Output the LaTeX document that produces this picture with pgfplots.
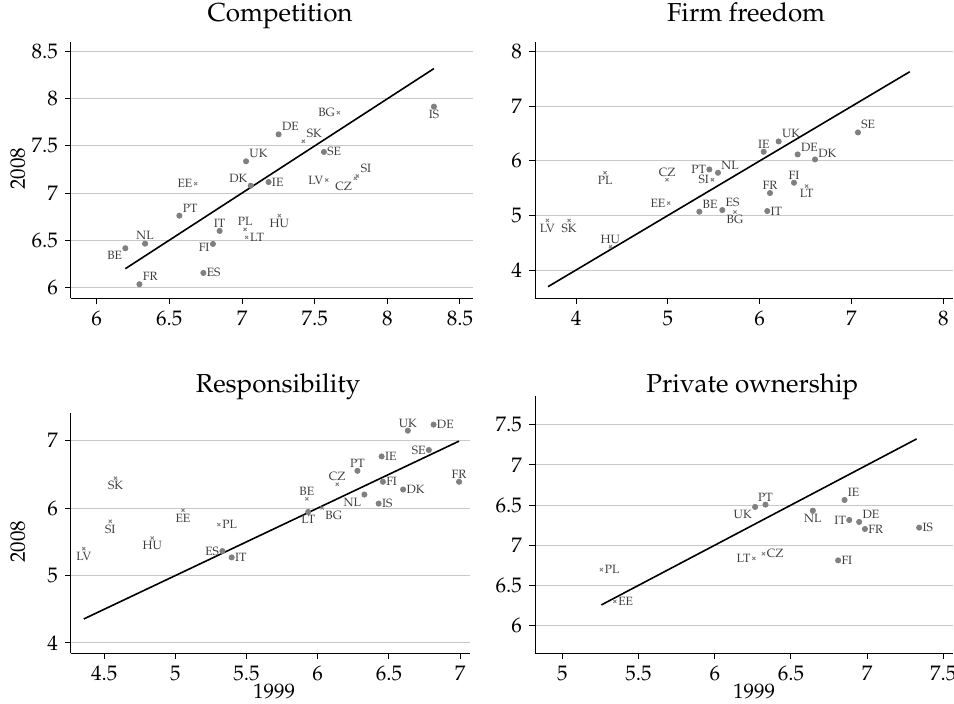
\documentclass[border=0pt]{standalone}
\usepackage[T1]{fontenc}
\usepackage{mathpazo}
\usepackage{pgfplots}
\pgfplotsset{compat=1.18}
\definecolor{mk}{RGB}{128,128,128}
\definecolor{lb}{RGB}{60,60,60}
\definecolor{gr}{RGB}{200,200,200}

\pgfplotsset{
 panel/.style={scale only axis, anchor=north west,
   axis x line*=bottom, axis y line*=left,
   tick align=outside, major tick length=3pt,
   tick style={black, line width=0.5pt},
   axis line style={line width=0.5pt},
   ymajorgrids, grid style={gr, line width=0.5pt},
   ticklabel style={font=\fontsize{10.5}{12}\selectfont},
   title style={font=\fontsize{13}{15}\selectfont, anchor=base},
   label style={font=\fontsize{10.5}{12}\selectfont},
   clip=false},
 pts/.style={only marks, nodes near coords, point meta=explicit symbolic,
   every node near coord/.append style={anchor=#1, font=\fontsize{6}{7}\selectfont, text=lb, inner sep=1.5pt}},
 circ/.style={pts=#1, mark=*, mark size=1.3pt, mark options={draw=mk, fill=mk}},
 crs/.style={pts=#1, mark=x, mark size=1.1pt, mark options={draw=mk, line width=0.45pt}},
 dline/.style={black, line width=0.8pt, mark=none},
}

\begin{document}
\begin{tikzpicture}
\path[use as bounding box] (0,0) rectangle (477pt,-351.5pt);

% ================= Competition =================
\begin{axis}[panel, at={(35.5pt,-21pt)}, width=201pt, height=128pt,
  xmin=5.823, xmax=8.59, ymin=5.886, ymax=8.603,
  xtick={6,6.5,7,7.5,8,8.5}, ytick={6,6.5,7,7.5,8,8.5},
  title={Competition}, title style={at={(0.52,1.035)}},
  ylabel={2008}, ylabel style={at={(axis description cs:-0.132,0.504)}, anchor=center}]
\addplot[dline] coordinates {(6.197,6.197) (8.321,8.321)};
% circles
\addplot[circ=north east] coordinates {(6.197,6.414)[BE]};
\addplot[circ=south] coordinates {(6.333,6.463)[NL] (6.846,6.598)[IT]};
\addplot[circ=south west] coordinates {(6.294,6.032)[FR] (6.569,6.760)[PT] (7.028,7.337)[UK] (7.252,7.623)[DE]};
\addplot[circ=20] coordinates {(6.800,6.460)[FI]};
\addplot[circ=west] coordinates {(6.734,6.152)[ES] (7.183,7.117)[IE] (7.564,7.436)[SE]};
\addplot[circ=south east] coordinates {(7.060,7.078)[DK]};
\addplot[circ=north] coordinates {(8.321,7.917)[IS]};
% crosses
\addplot[crs=east] coordinates {(6.681,7.100)[EE] (7.583,7.139)[LV] (7.663,7.853)[BG]};
\addplot[crs=south] coordinates {(7.021,6.615)[PL]};
\addplot[crs=west] coordinates {(7.032,6.530)[LT]};
\addplot[crs=north] coordinates {(7.257,6.760)[HU]};
\addplot[crs=south west] coordinates {(7.422,7.549)[SK] (7.794,7.181)[SI]};
\addplot[crs=north east] coordinates {(7.780,7.156)[CZ]};
\end{axis}

% ================= Firm freedom =================
\begin{axis}[panel, at={(267.5pt,-21pt)}, width=209pt, height=128pt,
  xmin=3.553, xmax=8.106, ymin=3.487, ymax=8.18,
  xtick={4,5,6,7,8}, ytick={4,5,6,7,8},
  title={Firm freedom}, title style={at={(0.505,1.034)}}]
\addplot[dline] coordinates {(3.695,3.695) (7.635,7.635)};
% circles
\addplot[circ=south west] coordinates {(5.343,5.069)[BE] (5.546,5.783)[NL] (5.593,5.099)[ES] (6.207,6.357)[UK] (6.414,6.119)[DE] (7.071,6.522)[SE]};
\addplot[circ=east] coordinates {(5.452,5.844)[PT]};
\addplot[circ=south] coordinates {(6.044,6.168)[IE] (6.113,5.411)[FR] (6.374,5.600)[FI]};
\addplot[circ=west] coordinates {(6.083,5.081)[IT]};
\addplot[circ=205] coordinates {(6.603,6.027)[DK]};
% crosses
\addplot[crs=north] coordinates {(3.688,4.910)[LV] (3.924,4.910)[SK] (4.316,5.783)[PL] (5.731,5.063)[BG] (6.512,5.539)[LT]};
\addplot[crs=south] coordinates {(4.374,4.427)[HU] (4.991,5.655)[CZ]};
\addplot[crs=east] coordinates {(5.009,5.227)[EE] (5.485,5.655)[SI]};
\end{axis}

% ================= Responsibility =================
\begin{axis}[panel, at={(35.5pt,-206.5pt)}, width=199.5pt, height=120pt,
  xmin=4.266, xmax=7.07, ymin=3.851, ymax=7.41,
  xtick={4.5,5,5.5,6,6.5,7}, ytick={4,5,6,7},
  title={Responsibility}, title style={at={(0.519,1.036)}},
  ylabel={2008}, ylabel style={at={(axis description cs:-0.133,0.464)}, anchor=center},
  xlabel={1999}, xlabel style={at={(axis description cs:0.509,-0.160)}, anchor=center}]
\addplot[dline] coordinates {(4.356,4.356) (6.993,6.993)};
% circles
\addplot[circ=east] coordinates {(5.330,5.363)[ES] (6.781,6.861)[SE]};
\addplot[circ=west] coordinates {(5.395,5.269)[IT] (6.428,6.067)[IS] (6.449,6.766)[IE] (6.458,6.390)[FI] (6.600,6.276)[DK] (6.814,7.238)[DE]};
\addplot[circ=north] coordinates {(5.933,5.943)[LT]};
\addplot[circ=south] coordinates {(6.279,6.553)[PT] (6.633,7.148)[UK] (6.993,6.390)[FR]};
\addplot[circ=north east] coordinates {(6.328,6.201)[NL]};
% crosses
\addplot[crs=north] coordinates {(4.356,5.398)[LV] (4.542,5.805)[SI] (4.579,6.444)[SK] (4.837,5.557)[HU] (5.053,5.968)[EE]};
\addplot[crs=west] coordinates {(5.305,5.755)[PL]};
\addplot[crs=south] coordinates {(5.923,6.137)[BE] (6.137,6.355)[CZ]};
\addplot[crs=north west] coordinates {(6.030,6.003)[BG]};
\end{axis}

% ================= Private ownership =================
\begin{axis}[panel, at={(267.5pt,-198pt)}, width=209pt, height=128.5pt,
  xmin=4.82, xmax=7.564, ymin=4.656, ymax=7.86,
  xtick={5,5.5,6,6.5,7,7.5}, ytick={5,5.5,6,6.5,7,7.5},
  yticklabels={6,6.5,7,6.5,7,7.5},
  title={Private ownership}, title style={at={(0.52,0.968)}},
  xlabel={1999}, xlabel style={at={(axis description cs:0.524,-0.150)}, anchor=center}]
\addplot[dline] coordinates {(5.256,5.256) (7.325,7.325)};
% circles
\addplot[circ=north east] coordinates {(6.265,6.477)[UK]};
\addplot[circ=south] coordinates {(6.333,6.506)[PT]};
\addplot[circ=north] coordinates {(6.644,6.431)[NL]};
\addplot[circ=west] coordinates {(6.810,5.811)[FI] (6.986,6.202)[FR] (7.342,6.219)[IS]};
\addplot[circ=south west] coordinates {(6.852,6.564)[IE] (6.948,6.290)[DE]};
\addplot[circ=east] coordinates {(6.883,6.314)[IT]};
% crosses
\addplot[crs=west] coordinates {(5.256,5.695)[PL] (5.344,5.300)[EE] (6.320,5.894)[CZ]};
\addplot[crs=east] coordinates {(6.257,5.836)[LT]};
\end{axis}
\end{tikzpicture}
\end{document}
